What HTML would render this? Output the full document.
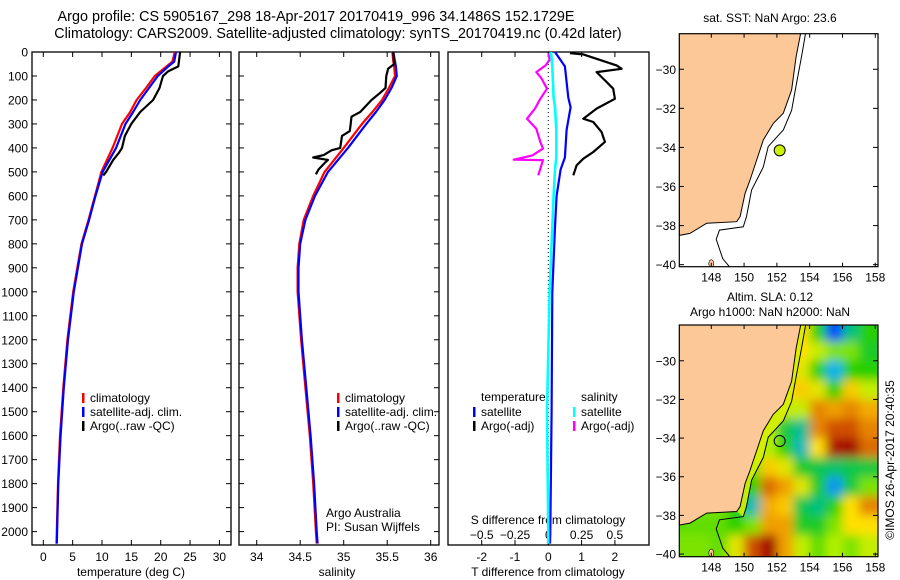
<!DOCTYPE html>
<html><head><meta charset="utf-8"><style>
html,body{margin:0;padding:0;background:#fff;}
svg{display:block;font-family:"Liberation Sans",sans-serif;}
</style></head><body>
<svg id="fig" width="900" height="580" viewBox="0 0 900 580">
<defs>
<filter id="blur" x="-10%" y="-10%" width="120%" height="120%"><feGaussianBlur stdDeviation="5"/></filter>
<clipPath id="clipMap2"><rect x="679.3" y="325" width="198.7" height="231.7"/></clipPath>
<clipPath id="clipMap1"><rect x="679.3" y="33.7" width="198.7" height="233"/></clipPath>
</defs>
<text x="316" y="21" font-size="14.4" text-anchor="middle">Argo profile: CS 5905167_298 18-Apr-2017 20170419_996 34.1486S 152.1729E</text>
<text x="338" y="38" font-size="14.3" text-anchor="middle">Climatology: CARS2009. Satellite-adjusted climatology: synTS_20170419.nc (0.42d later)</text>
<text x="770" y="22" font-size="12" text-anchor="middle">sat. SST: NaN Argo: 23.6</text>
<text x="770" y="301" font-size="12" text-anchor="middle">Altim. SLA: 0.12</text>
<text x="770" y="316" font-size="12" text-anchor="middle">Argo h1000: NaN h2000: NaN</text>
<text transform="translate(894,460) rotate(-90)" font-size="12" text-anchor="middle">©IMOS 26-Apr-2017 20:40:35</text>
</svg>
<script>
// ---- profile data ----
const climDepth = [0,40,60,100,150,200,250,300,400,500,600,700,800,900,1000,1200,1400,1600,1800,2000,2050];
const climT = [22.4,22,21,19,17.5,15.9,14.8,13.4,11.8,9.9,8.8,7.7,6.5,5.8,5.1,4.1,3.4,2.85,2.5,2.3,2.25];
const satT = [22.6,22.3,21.3,19.5,18,16.5,15.3,14,12.4,10.1,8.9,7.8,6.6,5.9,5.2,4.2,3.5,2.95,2.55,2.35,2.3];
const argoTDepth = [0,60,80,100,150,200,250,300,350,400,420,450,500,515];
const argoT = [23.3,23,21.3,20.4,19.8,18.7,16.5,15,13.9,13.4,12.9,11.9,10.7,10.2];
const climS = [35.56,35.57,35.58,35.59,35.52,35.44,35.33,35.21,35.0,34.78,34.65,34.54,34.49,34.47,34.47,34.51,34.56,34.61,34.65,34.68,34.69];
const satS = [35.57,35.59,35.6,35.61,35.55,35.47,35.37,35.26,35.05,34.82,34.67,34.56,34.5,34.48,34.48,34.52,34.57,34.62,34.66,34.69,34.7];
const argoSDepth = [0,50,70,100,150,170,200,250,270,300,330,350,400,410,430,440,450,460,490,510];
const argoS = [35.57,35.58,35.51,35.49,35.48,35.42,35.32,35.19,35.09,35.08,35.07,34.98,34.96,34.86,34.77,34.65,34.82,34.79,34.71,34.68];
const diffDepth = [0,60,190,230,325,440,490,600,730,1000,1500,2000,2050];
const satTdiff = [0.2,0.5,0.6,0.67,0.55,0.5,0.37,0.25,0.2,0.12,0.1,0.06,0.05];
const satSdiff = [0.02,0.03,0.04,0.05,0.06,0.06,0.05,0.04,0.03,0.01,-0.01,0,0];
const argoTDiffDepth = [5,10,56,70,84,125,153,195,236,278,292,334,375,417,445,473,514];
const argoTdiff = [0.65,1.05,2.05,2.2,1.45,1.75,1.95,2.0,1.45,1.05,1.35,1.6,1.7,1.35,1.05,0.85,0.75];
const argoSDiffDepth = [5,33,56,84,111,153,195,236,278,320,375,403,431,449,451,487,514];
const argoSdiff = [0,0.01,-0.02,-0.09,-0.05,-0.01,-0.06,-0.1,-0.16,-0.09,-0.06,-0.04,-0.12,-0.26,-0.04,-0.06,-0.075];
const depthTicks = [0,100,200,300,400,500,600,700,800,900,1000,1100,1200,1300,1400,1500,1600,1700,1800,1900,2000];
const tempTicks = [0,5,10,15,20,25,30];
const salTicks = [34,34.5,35,35.5,36];
const tDiffTicks = [-2,-1,0,1,2];
const sDiffTicks = [-0.5,-0.25,0,0.25,0.5];
// ---- map data ----
const coastLon = [153.45,153.17,152.9,152.39,151.78,151.17,150.77,150.36,150.06,149.76,149.55,147.72,146.7,146.05];
const coastLat = [-28.15,-29.36,-31.06,-32.25,-32.77,-33.62,-34.64,-35.67,-36.35,-37.54,-37.8,-37.88,-38.4,-38.5];
const isoLon = [153.75,153.5,153.2,152.9,152.4,151.47,151.17,150.46,150.15,149.95,148.5,148.3,148.7,149.1];
const isoLat = [-28.15,-29.36,-30.7,-32.1,-33.1,-33.96,-35.0,-36.18,-37.54,-38.06,-38.23,-38.7,-39.7,-40.1];
const argoLon = 152.17, argoLat = -34.15;
const latTicks = [-30,-32,-34,-36,-38,-40];
const lonTicks = [148,150,152,154,156,158];
const slaLons = [146.5,147.5,148.5,149.5,150.5,151.5,152.5,153.5,154.5,155.5,156.5,157.5];
const slaLats = [-28.5,-29.5,-30.5,-31.5,-32.5,-33.5,-34.5,-35.5,-36.5,-37.5,-38.5,-39.5];
const slaValues = [
[0.3,0.3,0.3,0.3,0.3,0.3,0.3,1,0,-2.8,-1,0],
[0.3,0.3,0.3,0.3,0.3,0.3,0.3,1,0.6,0.3,0.3,-0.3],
[0.3,0.3,0.3,0.3,0.3,0.3,0.8,0.8,0,-2,0,0],
[0.3,0.3,0.3,0.3,0.3,0.3,1,1.2,0.8,0,1.2,0.6],
[0.3,0.3,0.3,0.3,0.3,0.5,0.6,0.6,1.8,1.6,1.8,1.5],
[0.3,0.3,0.3,0.3,0.3,0.5,-0.5,-1.2,1.8,2.2,2.2,1.8],
[0.3,0.3,0.3,0.3,0.5,0.5,0,-1.5,1,2.8,3,2],
[0.3,0.3,0.3,0.3,0.3,1.2,0.8,-0.3,-0.6,-0.8,-0.6,-0.5],
[0.3,0.3,0.3,0.3,0,2,1.6,0.8,-0.3,-2.2,-0.5,0.3],
[0.3,0.3,0.3,0,-1.5,1.5,1.2,-0.6,-1,0,1,1.8],
[0.2,0.2,0.2,0,0.3,1.6,1.6,-0.3,-0.3,0.3,1,1],
[0.3,0.3,0.2,0.8,2.2,3,1.6,0.6,0.2,0.5,0.3,0.6]
];

const NS = 'http://www.w3.org/2000/svg';
const svg = document.getElementById('fig');
function mk(tag, attrs, parent) {
  const e = document.createElementNS(NS, tag);
  for (const k in attrs) e.setAttribute(k, attrs[k]);
  (parent || svg).appendChild(e);
  return e;
}
function txt(x, y, s, anchor, size, parent) {
  const t = mk('text', {x: x, y: y, 'font-size': size || 12, 'text-anchor': anchor || 'start'}, parent);
  t.textContent = s;
  return t;
}
const Y0 = 52, Y1 = 545;
const yD = d => 52 + d * 0.2398;
const xT = v => 43.3 + v * 5.87;
const xS = v => 256.7 + (v - 34) * 87;
const xTd = v => 548.3 + v * 33.3;
const xSd = v => 548.3 + v * 133.2;

function frame(x0, x1, name) {
  const r = mk('rect', {x: x0, y: Y0, width: x1 - x0, height: Y1 - Y0, fill: 'none', stroke: '#000', 'stroke-width': 1.3});
  
  
  depthTicks.forEach(d => {
    mk('line', {x1: x0, x2: x0 + 5, y1: yD(d), y2: yD(d), stroke: '#000'});
    mk('line', {x1: x1 - 5, x2: x1, y1: yD(d), y2: yD(d), stroke: '#000'});
  });
}
function xticks(vals, fx, labels, name) {
  const g = mk('g', {});
  
  
  vals.forEach(v => {
    const x = fx(v);
    mk('line', {x1: x, x2: x, y1: Y1, y2: Y1 - 5, stroke: '#000'}, g);
    mk('line', {x1: x, x2: x, y1: Y0, y2: Y0 + 5, stroke: '#000'}, g);
    if (labels) txt(x, 561, String(v), 'middle', 12, g);
  });
}
function line(ds, vs, fx, color, w, name) {
  const pts = ds.map((d, i) => fx(vs[i]).toFixed(1) + ',' + yD(d).toFixed(1)).join(' ');
  const p = mk('polyline', {points: pts, fill: 'none', stroke: color, 'stroke-width': w, 'stroke-linejoin': 'round'});
  
  
}
function legend(x, y, color, label) {
  mk('rect', {x: x, y: y - 9, width: 2.5, height: 10, fill: color});
  const t = txt(x + 8, y, label, 'start', 12);
  
  
}

const dl = mk('g', {});


depthTicks.forEach(d => txt(28, yD(d) + 4.5, String(d), 'end', 12, dl));

// Panel 1
frame(32, 231, 'temperature-panel');
xticks(tempTicks, xT, true, 'temperature-x-axis');
line(climDepth, climT, xT, '#ff0000', 2.2, 'temp-climatology-line');
line(climDepth, satT, xT, '#0000ff', 2.2, 'temp-satellite-line');
line(argoTDepth, argoT, xT, '#000000', 2.2, 'temp-argo-line');
txt(131, 576, 'temperature (deg C)', 'middle', 12);
legend(82, 402, '#ff0000', 'climatology');
legend(82, 416, '#0000ff', 'satellite-adj. clim.');
legend(82, 430, '#000000', 'Argo(..raw -QC)');

// Panel 2
frame(239, 439, 'salinity-panel');
xticks(salTicks, xS, true, 'salinity-x-axis');
line(climDepth, climS, xS, '#ff0000', 2.2, 'sal-climatology-line');
line(climDepth, satS, xS, '#0000ff', 2.2, 'sal-satellite-line');
line(argoSDepth, argoS, xS, '#000000', 2.2, 'sal-argo-line');
txt(337, 576, 'salinity', 'middle', 12);
legend(337, 402, '#ff0000', 'climatology');
legend(337, 416, '#0000ff', 'satellite-adj. clim.');
legend(337, 430, '#000000', 'Argo(..raw -QC)');
txt(326, 517, 'Argo Australia', 'start', 12);
txt(326, 531, 'PI: Susan Wijffels', 'start', 12);

// Panel 3
mk('rect', {x: 448, y: Y0, width: 201, height: Y1 - Y0, fill: 'none', stroke: '#000', 'stroke-width': 1.3});
xticks(tDiffTicks, xTd, true, 'tdiff-x-axis');
const sdg = mk('g', {});


sDiffTicks.forEach(v => txt(xSd(v), 539, String(v).replace('-', '\u2212'), 'middle', 12, sdg));
txt(548, 524, 'S difference from climatology', 'middle', 12);
txt(548, 576, 'T difference from climatology', 'middle', 12);
mk('line', {x1: 548.3, x2: 548.3, y1: Y0, y2: Y1, stroke: '#000', 'stroke-dasharray': '1,3'});
line(argoSDiffDepth, argoSdiff, xSd, '#ff00ff', 2.2, 'sdiff-argo-line');
line(argoTDiffDepth, argoTdiff, xTd, '#000000', 2.2, 'tdiff-argo-line');
line(diffDepth, satTdiff, xTd, '#0000ff', 2.2, 'tdiff-satellite-line');
line(diffDepth, satSdiff, xSd, '#00ffff', 2.6, 'sdiff-satellite-line');
txt(481, 401, 'temperature', 'start', 12);
txt(581, 401, 'salinity', 'start', 12);
legend(473, 416, '#0000ff', 'satellite');
legend(473, 430, '#000000', 'Argo(-adj)');
legend(573, 416, '#00ffff', 'satellite');
legend(573, 430, '#ff00ff', 'Argo(-adj)');

// ---- Maps ----
const mX = lon => 679.3 + (lon - 146.05) * 16.4;
const m1Y = lat => 33.7 + (-28.18 - lat) * 19.54;
const m2Y = lat => 325 + (-28.15 - lat) * 19.33;
const stops = [[-3,[0,48,255]],[-2,[16,176,240]],[-1,[0,192,128]],[0,[40,208,0]],[0.5,[180,240,0]],[1,[255,224,0]],[1.6,[240,160,0]],[2.2,[208,80,0]],[3,[160,0,0]]];
function cmap(v) {
  if (v <= stops[0][0]) return 'rgb(' + stops[0][1] + ')';
  for (let i = 1; i < stops.length; i++) {
    if (v <= stops[i][0]) {
      const f = (v - stops[i-1][0]) / (stops[i][0] - stops[i-1][0]);
      const c = stops[i-1][1].map((a, k) => Math.round(a + f * (stops[i][1][k] - a)));
      return 'rgb(' + c + ')';
    }
  }
  return 'rgb(' + stops[stops.length-1][1] + ')';
}
function drawMap(fy, top, h, which) {
  const g = mk('g', {});
  
  
  mk('rect', {x: 679.3, y: top, width: 198.7, height: h, fill: '#fff'}, g);
  const cg2 = mk('g', {'clip-path': which === 'sla' ? 'url(#clipMap2)' : 'url(#clipMap1)'}, g);
  if (which === 'sla') {
    const bg = mk('g', {filter: 'url(#blur)'}, cg2);
    slaLats.forEach((lat, r) => slaLons.forEach((lon, c) => {
      let x0 = mX(lon - 0.5), x1 = mX(lon + 0.5), y0 = fy(lat + 0.5), y1 = fy(lat - 0.5);
      if (c === 0) x0 -= 20; if (c === slaLons.length - 1) x1 += 20;
      if (r === 0) y0 -= 20; if (r === slaLats.length - 1) y1 += 20;
      const cell = mk('rect', {x: x0, y: y0, width: x1 - x0 + 0.5, height: y1 - y0 + 0.5, fill: cmap(slaValues[r][c])}, bg);
      
      
    }));
    // shelf strip between coast and isobath
    const sp = coastLon.slice(0, 11).map((lon, i) => mX(lon).toFixed(1) + ',' + fy(coastLat[i]).toFixed(1));
    const ip = isoLon.slice(0, 10).map((lon, i) => mX(lon).toFixed(1) + ',' + fy(isoLat[i]).toFixed(1)).reverse();
    const shelf = mk('polygon', {points: sp.concat(ip).join(' '), fill: '#d8f000', opacity: 0.85}, cg2);
    
    
  }
  let pts = coastLon.map((lon, i) => mX(lon).toFixed(1) + ',' + fy(coastLat[i]).toFixed(1));
  pts.push(mX(146.0) + ',' + fy(-28.0));
  const land = mk('polygon', {points: pts.join(' '), fill: '#fcc898', stroke: '#000', 'stroke-width': 1}, cg2);
  
  
  const isl = mk('ellipse', {cx: mX(148.0), cy: fy(-39.95), rx: 2.5, ry: 4, fill: '#fcc898', stroke: '#000', 'stroke-width': 0.6}, cg2);
  
  
  const iso = mk('polyline', {points: isoLon.map((lon, i) => mX(lon).toFixed(1) + ',' + fy(isoLat[i]).toFixed(1)).join(' '), fill: 'none', stroke: '#000', 'stroke-width': 1}, cg2);
  
  
  const dot = mk('circle', {cx: mX(argoLon), cy: fy(argoLat), r: 5.5, fill: which === 'sla' ? 'none' : '#ccee00', stroke: '#000', 'stroke-width': 1}, g);
  
  
  mk('rect', {x: 679.3, y: top, width: 198.7, height: h, fill: 'none', stroke: '#000', 'stroke-width': 1.2}, g);
  latTicks.forEach(lat => {
    const y = fy(lat);
    mk('line', {x1: 679.3, x2: 684, y1: y, y2: y, stroke: '#000'}, g);
    mk('line', {x1: 873, x2: 878, y1: y, y2: y, stroke: '#000'}, g);
    txt(676, y + 4.5, String(lat).replace('-', '\u2212'), 'end', 12, g);
  });
  lonTicks.forEach(lon => {
    const x = mX(lon);
    mk('line', {x1: x, x2: x, y1: top, y2: top + 4, stroke: '#000'}, g);
    mk('line', {x1: x, x2: x, y1: top + h, y2: top + h - 4, stroke: '#000'}, g);
    txt(x, top + h + 15, String(lon), 'middle', 12, g);
  });
}
drawMap(m1Y, 33.7, 233, 'sst');
drawMap(m2Y, 325, 231.7, 'sla');
</script>
</body></html>
